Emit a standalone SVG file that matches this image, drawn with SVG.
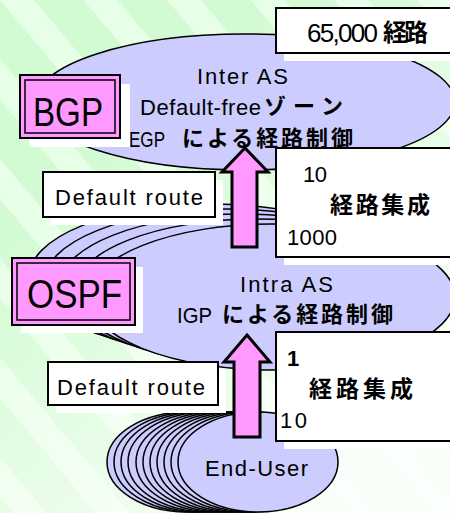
<svg xmlns="http://www.w3.org/2000/svg" width="450" height="513" viewBox="0 0 450 513">
  <defs>
    <pattern id="stripes" width="64" height="64" patternUnits="userSpaceOnUse" patternTransform="rotate(-40)">
      <rect width="64" height="64" fill="#d3fbd3"/>
      <rect x="0" width="26" height="64" fill="#e7ffe7"/>
    </pattern>
    <linearGradient id="fade" x1="0.15" y1="0.35" x2="0.65" y2="1">
      <stop offset="0" stop-color="#ffffff" stop-opacity="0"/>
      <stop offset="1" stop-color="#ffffff" stop-opacity="0.85"/>
    </linearGradient>
    <style>
      .area { fill: #ccccff; stroke: #000; stroke-width: 1.5; }
      .box { fill: #fff; stroke: #000; stroke-width: 2; }
      .shadow { fill: #fff; }
      .proto { fill: #ff99ff; stroke: #000; stroke-width: 2; }
      .proto-in { fill: #ff99ff; stroke: #000; stroke-width: 1.5; }
      .arrow { fill: #ff99ff; stroke: #000; stroke-width: 3; stroke-linejoin: miter; }
      text { fill: #000; }
      .t { font-family: "Liberation Sans", Arial, sans-serif; font-size: 22px; }
      .j { font-family: "Liberation Sans", "Noto Sans CJK JP", sans-serif; font-size: 22px; font-weight: bold; }
      .big { font-family: "Liberation Sans", Arial, sans-serif; font-size: 40px; }
    </style>
  </defs>

  <!-- background -->
  <rect width="450" height="513" fill="url(#stripes)"/>
  <rect width="450" height="513" fill="url(#fade)"/>

  <!-- Inter AS zone -->
  <g id="inter-as">
    <ellipse class="area" cx="245" cy="102" rx="210" ry="68"/>
  </g>

  <!-- Intra AS zones, back to front -->
  <g id="intra-as">
    <ellipse class="area" cx="212" cy="277" rx="183" ry="73"/>
    <ellipse class="area" cx="227" cy="282" rx="183" ry="73"/>
    <ellipse class="area" cx="242" cy="287" rx="183" ry="73"/>
    <ellipse class="area" cx="257" cy="292" rx="183" ry="73"/>
    <ellipse class="area" cx="272" cy="297" rx="183" ry="73"/>
  </g>

  <!-- End-User networks, back to front -->
  <g id="end-user">
    <ellipse class="area" cx="187" cy="462" rx="80" ry="50"/>
    <ellipse class="area" cx="194" cy="462" rx="80" ry="50"/>
    <ellipse class="area" cx="201" cy="462" rx="80" ry="50"/>
    <ellipse class="area" cx="208" cy="462" rx="80" ry="50"/>
    <ellipse class="area" cx="216" cy="462" rx="80" ry="50"/>
    <ellipse class="area" cx="223" cy="462" rx="80" ry="50"/>
    <ellipse class="area" cx="230" cy="462" rx="80" ry="50"/>
    <ellipse class="area" cx="237" cy="462" rx="80" ry="50"/>
    <ellipse class="area" cx="244" cy="462" rx="80" ry="50"/>
    <ellipse class="area" cx="251" cy="462" rx="80" ry="50"/>
    <ellipse class="area" cx="258" cy="462" rx="80" ry="50"/>
  </g>

  <!-- zone labels -->
  <g id="inter-as-label">
    <text class="t" x="197" y="84" textLength="91">Inter AS</text>
    <text class="t" x="140" y="115" textLength="121">Default-free</text>
    <text class="j" x="264" y="114" textLength="79">ゾーン</text>
    <text class="t" x="129" y="147" textLength="36" lengthAdjust="spacingAndGlyphs">EGP</text>
    <text class="j" x="182" y="146" textLength="171">による経路制御</text>
  </g>
  <g id="intra-as-label">
    <text class="t" x="240" y="292" textLength="93">Intra AS</text>
    <text class="t" x="177" y="323" textLength="35" lengthAdjust="spacingAndGlyphs">IGP</text>
    <text class="j" x="222" y="322" textLength="171">による経路制御</text>
  </g>
  <g id="end-user-label">
    <text class="t" x="205" y="476" textLength="103">End-User</text>
  </g>

  <!-- route count boxes -->
  <g id="routes-top">
    <rect class="shadow" x="284" y="16" width="172" height="45"/>
    <rect class="box" x="276" y="8" width="180" height="45"/>
    <text class="t" x="307" y="42" style="font-size:26px" textLength="71">65,000</text>
    <text class="j" x="383" y="41" style="font-size:24px" textLength="45">経路</text>
  </g>
  <g id="aggregation-upper">
    <rect class="shadow" x="284" y="156" width="172" height="109"/>
    <rect class="box" x="276" y="148" width="180" height="109"/>
    <text class="t" x="303" y="182" textLength="24">10</text>
    <text class="j" x="330" y="213" style="font-size:23px" textLength="100">経路集成</text>
    <text class="t" x="287" y="245" textLength="50">1000</text>
  </g>
  <g id="aggregation-lower">
    <rect class="shadow" x="284" y="340" width="172" height="109"/>
    <rect class="box" x="276" y="332" width="180" height="109"/>
    <text class="j" x="287" y="366">1</text>
    <text class="j" x="309" y="397" style="font-size:23px" textLength="104">経路集成</text>
    <text class="t" x="280" y="428" textLength="27">10</text>
  </g>

  <!-- default route boxes -->
  <g id="default-route-upper">
    <rect class="shadow" x="51" y="180" width="172" height="45"/>
    <rect class="box" x="43" y="172" width="172" height="45"/>
    <text class="t" x="55" y="205" textLength="148">Default route</text>
  </g>
  <g id="default-route-lower">
    <rect class="shadow" x="56" y="370" width="170" height="43"/>
    <rect class="box" x="48" y="362" width="170" height="43"/>
    <text class="t" x="57" y="395" textLength="148">Default route</text>
  </g>

  <!-- protocol boxes -->
  <g id="bgp">
    <rect class="shadow" x="29" y="84" width="101" height="63"/>
    <rect class="proto" x="20" y="75" width="100" height="63"/>
    <rect class="proto-in" x="25" y="80" width="90" height="53"/>
    <text class="big" x="33" y="126" textLength="70" lengthAdjust="spacingAndGlyphs">BGP</text>
  </g>
  <g id="ospf">
    <rect class="shadow" x="21" y="267" width="122" height="66"/>
    <rect class="proto" x="12" y="258" width="123" height="67"/>
    <rect class="proto-in" x="17" y="263" width="113" height="57"/>
    <text class="big" x="27" y="308" textLength="95" lengthAdjust="spacingAndGlyphs">OSPF</text>
  </g>

  <!-- aggregation arrows -->
  <g id="connectors">
    <path class="arrow" d="M245,148 L268,172 L257,172 L257,247 L232,247 L232,172 L222,172 Z"/>
    <path class="arrow" d="M247,335 L270,362 L260,362 L260,437 L234,437 L234,362 L224,362 Z"/>
  </g>
</svg>
